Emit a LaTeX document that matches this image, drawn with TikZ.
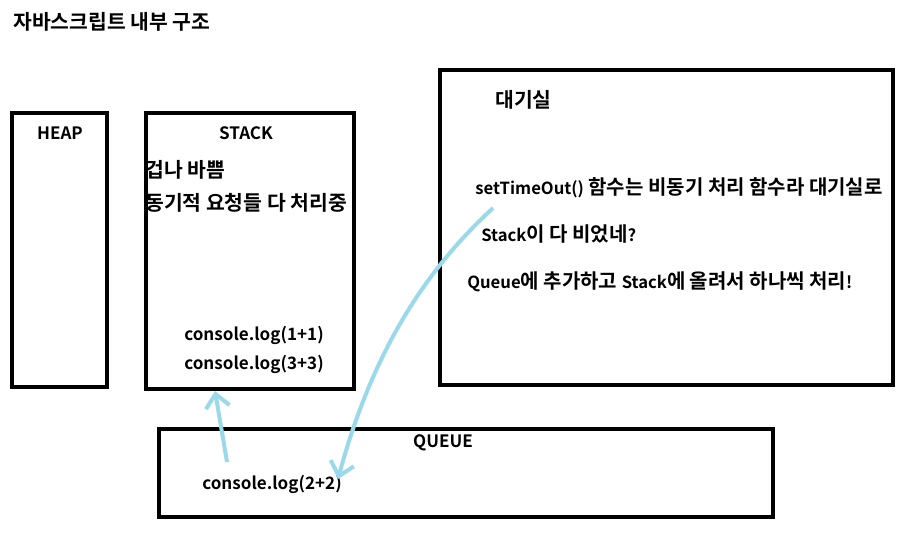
\documentclass[tikz,border=0pt]{standalone}
\usepackage{fontspec}
\setmainfont{Noto Sans CJK KR}[BoldFont={* Bold}]
\usetikzlibrary{arrows.meta}
\definecolor{paintblue}{RGB}{153,217,234}
\tikzset{
  box/.style={draw=black,line width=3.4pt},
  kor/.style={font=\fontsize{15.3}{17}\selectfont\bfseries,anchor=west,inner sep=0pt},
  lat/.style={font=\fontsize{12.8}{14}\selectfont\bfseries,inner sep=0pt},
  mix/.style={font=\fontsize{15}{17}\selectfont\bfseries,anchor=west,inner sep=0pt},
  arr/.style={draw=paintblue,line width=3pt,-{Straight Barb[length=10pt,width=18pt,line width=3pt]}}
}
\newcommand{\lt}[1]{{\fontsize{12.5}{14}\selectfont #1}}
\begin{document}
\begin{tikzpicture}[x=0.75pt,y=-0.75pt]
\useasboundingbox (0,0) rectangle (916,540);
% title
\node[kor] (title) at (13,22) {자바스크립트 내부 구조};
% boxes
\draw[box] (12,113) rectangle (107,387);
\draw[box] (146,113) rectangle (354,389);
\draw[box] (440,70) rectangle (893,385);
\draw[box] (159,429) rectangle (773,517);
% labels
\node[lat] (heap) at (60,133) {HEAP};
\node[lat] (stack) at (246,133) {STACK};
\node[kor] (busy) at (145,170) {겁나 바쁨};
\node[kor] (sync) at (145,203) {동기적 요청들 다 처리중};
\node[lat,anchor=west] (c1) at (184,335) {console.log(1+1)};
\node[lat,anchor=west] (c3) at (184,364) {console.log(3+3)};
\node[kor] (wait) at (495,100) {대기실};
\node[mix] (t1) at (475,188) {\lt{setTimeOut()} 함수는 비동기 처리 함수라 대기실로};
\node[mix] (t2) at (481,234) {\lt{Stack}이 다 비었네\lt{?}};
\node[mix] (t3) at (467,282) {\lt{Queue}에 추가하고 \lt{Stack}에 올려서 하나씩 처리\lt{!}};
\node[lat] (queue) at (443,443) {QUEUE};
\node[lat,anchor=west] (c2) at (202,484) {console.log(2+2)};
% arrows
\coordinate (a1s) at (227,462);
\coordinate (a1e) at (215,391);
\draw[arr] (a1s) -- (a1e);
\coordinate (a2s) at (493,208);
\coordinate (a2e) at (338,479);
\draw[arr] (a2s) .. controls (420,275) and (370,360) .. (a2e);
\end{tikzpicture}
\end{document}
